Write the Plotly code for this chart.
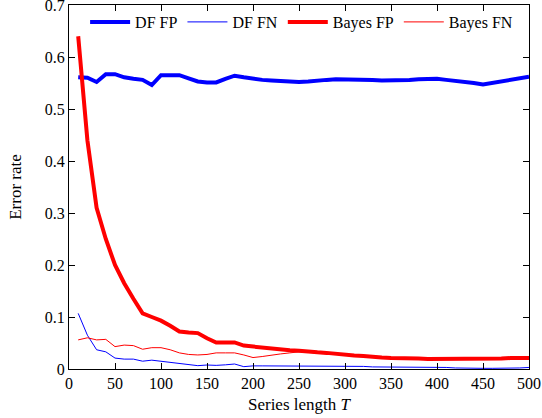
import plotly.graph_objects as go

# Series length T
T = list(range(10, 501, 10))

df_fp = [0.561, 0.560, 0.552, 0.567, 0.567, 0.561, 0.558, 0.556, 0.546, 0.565,
         0.565, 0.565, 0.559, 0.553, 0.551, 0.551, 0.558, 0.564, 0.561, 0.558,
         0.556, 0.555, 0.554, 0.552, 0.552, 0.553, 0.555, 0.556, 0.557, 0.557,
         0.557, 0.557, 0.556, 0.555, 0.555, 0.556, 0.556, 0.557, 0.557, 0.558,
         0.556, 0.554, 0.553, 0.550, 0.547, 0.550, 0.554, 0.556, 0.559, 0.562]

df_fn = [0.107, 0.065, 0.037, 0.033, 0.021, 0.019, 0.019, 0.015, 0.017, 0.015,
         0.0135, 0.0115, 0.0096, 0.0064, 0.0077, 0.007, 0.008, 0.0096, 0.0045, 0.006,
         0.006, 0.006, 0.006, 0.006, 0.006, 0.006, 0.006, 0.006, 0.006, 0.006,
         0.005, 0.005, 0.004, 0.004, 0.004, 0.004, 0.004, 0.004, 0.004, 0.004,
         0.003, 0.002, 0.0013, 0.0013, 0.0013, 0.0013, 0.0013, 0.0013, 0.002, 0.003]

bayes_fp = [0.640, 0.440, 0.310, 0.250, 0.200, 0.165, 0.135, 0.107, 0.100, 0.093,
            0.083, 0.072, 0.070, 0.069, 0.059, 0.051, 0.051, 0.051, 0.045, 0.043,
            0.041, 0.039, 0.037, 0.036, 0.035, 0.033, 0.032, 0.031, 0.029, 0.027,
            0.026, 0.025, 0.023, 0.022, 0.021, 0.021, 0.020, 0.020, 0.019, 0.019,
            0.019, 0.019, 0.019, 0.019, 0.019, 0.019, 0.020, 0.021, 0.021, 0.021]

bayes_fn = [0.056, 0.060, 0.056, 0.057, 0.043, 0.046, 0.045, 0.038, 0.041, 0.041,
            0.037, 0.031, 0.028, 0.027, 0.028, 0.031, 0.031, 0.031, 0.027, 0.022,
            0.024, 0.027, 0.029, 0.031, 0.033, 0.032, 0.031, 0.030, 0.028, 0.027,
            0.026, 0.025, 0.023, 0.022, 0.021, 0.021, 0.020, 0.020, 0.019, 0.019,
            0.019, 0.019, 0.019, 0.019, 0.019, 0.019, 0.020, 0.021, 0.021, 0.021]

x_ticks = list(range(0, 501, 50))
y_ticks = [0, 0.1, 0.2, 0.3, 0.4, 0.5, 0.6, 0.7]

FONT = "Liberation Serif"

fig = go.Figure()
fig.add_trace(go.Scatter(x=T, y=df_fp, name="DF FP", mode="lines",
                         line=dict(color="#0000ff", width=4)))
fig.add_trace(go.Scatter(x=T, y=df_fn, name="DF FN", mode="lines",
                         line=dict(color="#0000ff", width=1)))
fig.add_trace(go.Scatter(x=T, y=bayes_fp, name="Bayes FP", mode="lines",
                         line=dict(color="#ff0000", width=4)))
fig.add_trace(go.Scatter(x=T, y=bayes_fn, name="Bayes FN", mode="lines",
                         line=dict(color="#ff0000", width=1)))

axis_style = dict(
    showline=True, linecolor="black", linewidth=1, mirror="ticks",
    ticks="inside", ticklen=6, tickcolor="black", showgrid=False,
    zeroline=False, automargin=False, ticklabeloverflow="allow",
    tickfont=dict(family=FONT, size=16, color="black"),
)

fig.update_layout(
    width=542, height=418,
    margin=dict(l=69, r=13, t=5, b=49),
    plot_bgcolor="white", paper_bgcolor="white",
    font=dict(family=FONT, size=16, color="black"),
    showlegend=True,
    legend=dict(orientation="h", x=0.035, y=1.0, xanchor="left", yanchor="top",
                bgcolor="rgba(0,0,0,0)", font=dict(family=FONT, size=16),
                itemwidth=40, tracegroupgap=0),
)
fig.update_xaxes(range=[0, 500], tickvals=x_ticks,
                 title=dict(text="Series length <i>T</i>", standoff=6,
                            font=dict(family=FONT, size=17)),
                 **axis_style)
fig.update_yaxes(range=[0, 0.7], tickvals=y_ticks,
                 ticktext=[("%g" % v) for v in y_ticks],
                 title=dict(text="Error rate", standoff=18,
                            font=dict(family=FONT, size=17)),
                 **axis_style)

# the page's default body margin would shift the figure by 8px
fig.write_html("out.html", config={"displayModeBar": False},
               post_script="document.body.style.margin='0';")
